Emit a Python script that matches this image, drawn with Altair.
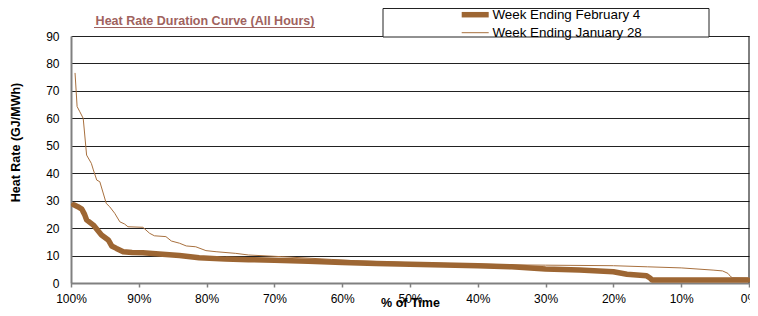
import altair as alt
import pandas as pd

# ---- data ----
series_names = ["Week Ending February 4", "Week Ending January 28"]

feb_x = [99.6, 99.0, 98.4, 98.0, 97.7, 96.7, 95.5, 94.5, 94.0, 93.3, 92.3, 91.0,
         89.4, 87.0, 84.0, 81.1, 77.2, 73.8, 70.0, 65.0, 60.0, 55.0, 50.0, 45.0,
         40.0, 35.0, 30.0, 25.0, 20.0, 18.0, 15.1, 14.6, 14.3, 10.0, 5.0, 0.2]
feb_y = [28.5, 27.8, 26.9, 25.0, 23.0, 21.1, 17.5, 15.7, 13.5, 12.6, 11.4, 11.1,
         11.0, 10.6, 10.0, 9.2, 8.7, 8.5, 8.3, 7.9, 7.5, 7.1, 6.8, 6.6,
         6.3, 5.9, 5.1, 4.7, 4.1, 3.2, 2.6, 1.8, 1.1, 1.1, 1.1, 1.1]

jan_x = [99.4, 99.1, 98.7, 98.2, 97.7, 97.0, 96.7, 96.2, 95.75, 94.8, 94.3, 93.55,
         92.8, 92.1, 91.6, 89.4, 88.4, 87.7, 86.0, 85.2, 84.0, 83.0, 81.6, 80.1,
         78.6, 75.7, 73.8, 69.0, 61.6, 58.0, 50.0, 40.0, 35.0, 30.0, 20.0, 15.0,
         10.0, 5.3, 3.9, 3.1, 2.7, 2.4, 0.2]
jan_y = [76.4, 64.3, 62.4, 60.0, 46.6, 43.6, 41.2, 37.5, 36.9, 29.0, 27.8, 25.4,
         22.3, 21.5, 20.5, 20.3, 18.1, 17.2, 16.9, 15.3, 14.5, 13.5, 13.2, 11.8,
         11.4, 10.8, 10.2, 9.6, 8.6, 8.1, 7.4, 6.9, 6.6, 6.5, 6.3, 5.9,
         5.5, 4.7, 4.4, 3.5, 2.3, 1.9, 1.8]

x_ticks = [100, 90, 80, 70, 60, 50, 40, 30, 20, 10, 0]
y_ticks = [0, 10, 20, 30, 40, 50, 60, 70, 80, 90]

chart_title = "Heat Rate Duration Curve (All Hours)"
x_title = "% of Time"
y_title = "Heat Rate (GJ/MWh)"

# ---- table ----
df = pd.concat([
    pd.DataFrame({"series": series_names[1], "time": jan_x, "rate": jan_y, "k": 0}),
    pd.DataFrame({"series": series_names[0], "time": feb_x, "rate": feb_y, "k": 1}),
], ignore_index=True)

W, H = 678, 247
FONT = "Liberation Sans"
BROWN_THICK = "#9d6633"
BROWN_THIN = "#a8703e"
TITLE_COLOR = "#a0625e"

one = pd.DataFrame({"t": [chart_title]})

lines = alt.Chart(df).mark_line(strokeJoin="round", strokeCap="round").encode(
    x=alt.X("time:Q",
            scale=alt.Scale(domain=[100, 0], nice=False, zero=False),
            axis=alt.Axis(values=x_ticks, labelExpr="datum.value + '%'",
                          title=x_title, grid=False, tickSize=4, tickWidth=1.5,
                          tickColor="#808080", labelPadding=6, labelFlush=False,
                          labelOverlap=False,
                          titleY=23, titleBaseline="alphabetic")),
    y=alt.Y("rate:Q",
            scale=alt.Scale(domain=[0, 90], nice=False),
            axis=alt.Axis(values=y_ticks, title=y_title, ticks=False,
                          labelPadding=12, grid=True, gridColor="#222222",
                          gridWidth=1, titleAngle=-90, titleX=-56, titleY=106,
                          titleAlign="center", titleBaseline="middle")),
    color=alt.Color("series:N",
                    scale=alt.Scale(domain=series_names, range=[BROWN_THICK, BROWN_THIN]),
                    legend=alt.Legend(title=None, orient="none", legendX=406, legendY=-28,
                                      symbolType="M-11,0H2.5", symbolSize=16,
                                      labelFont=FONT, labelFontSize=13.4, labelColor="black",
                                      labelOffset=2, rowPadding=-9, padding=0)),
    strokeWidth=alt.StrokeWidth("series:N",
                                scale=alt.Scale(domain=series_names, range=[5.5, 1])),
    order=alt.Order("k:Q"),
)

legend_box = alt.Chart(one).mark_rect(fill="white", stroke="#222222", strokeWidth=1).encode(
    x=alt.value(312), x2=alt.value(638), y=alt.value(-27.5), y2=alt.value(1)
)

right_border = alt.Chart(one).mark_rule(color="black", strokeWidth=1).encode(
    x=alt.datum(0), y=alt.value(0), y2=alt.value(H)
)

title_text = alt.Chart(one).mark_text(
    font=FONT, fontSize=12.5, fontWeight="bold", color=TITLE_COLOR,
    align="center", baseline="alphabetic"
).encode(text="t:N", x=alt.value(134), y=alt.value(-11))

title_line = alt.Chart(one).mark_rule(color=TITLE_COLOR, strokeWidth=1).encode(
    x=alt.value(23), x2=alt.value(244), y=alt.value(-8.5)
)

chart = alt.layer(right_border, lines, legend_box, title_text, title_line).properties(
    width=W, height=H,
    autosize=alt.AutoSizeParams(type="none"),
    padding={"left": 63, "top": 28, "right": 1, "bottom": 25},
).configure_view(stroke=None).configure_axis(
    labelFont=FONT, labelFontSize=12, labelColor="black",
    titleFont=FONT, titleFontSize=12.5, titleFontWeight="bold", titleColor="black",
    domainColor="#808080", domainWidth=2,
)

chart.save("out.html", embed_options={"renderer": "svg", "actions": False})
